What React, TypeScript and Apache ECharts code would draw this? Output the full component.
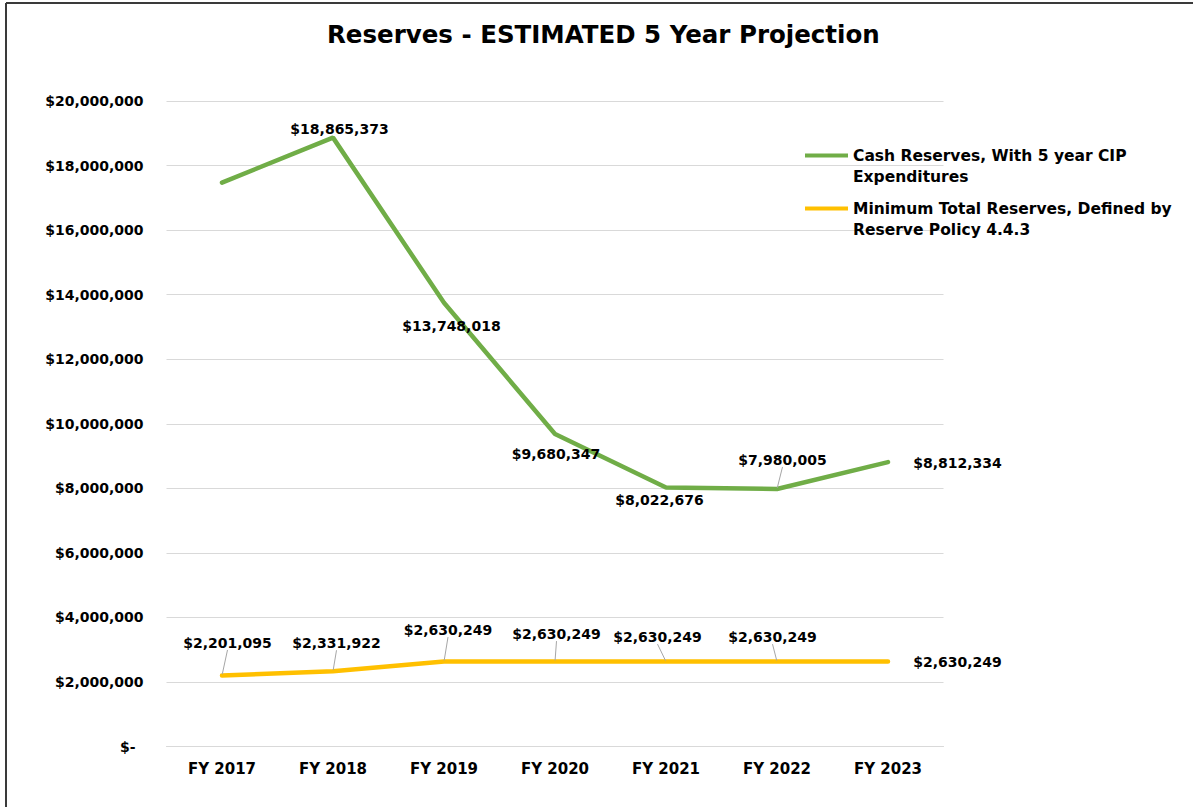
import React, { useEffect, useRef } from "react";
import * as echarts from "echarts";

const categories = ["FY 2017", "FY 2018", "FY 2019", "FY 2020", "FY 2021", "FY 2022", "FY 2023"];
const cashReserves = [17470000, 18865373, 13748018, 9680347, 8022676, 7980005, 8812334];
const minReserves = [2201095, 2331922, 2630249, 2630249, 2630249, 2630249, 2630249];
const yTicks = { min: 0, max: 20000000, interval: 2000000 };
const seriesNames = [
  "Cash Reserves, With 5 year CIP Expenditures",
  "Minimum Total Reserves, Defined by Reserve Policy 4.4.3",
];

// label placement (offset of label centre from its point, px)
const cashLabelOffsets: number[][] = [[0, 0], [6.5, -8.5], [7.5, 23], [1, 20], [-6.5, 12.5], [5.5, -29], [69.5, 1]];
const minLabelOffsets: number[][] = [[5.5, -32.5], [3.5, -28], [4, -31.5], [1.5, -27.5], [-8.5, -24.5], [-4.5, -24.5], [69.5, 0.5]];

const FONT = "DejaVu Sans";
const fmt = (v: number) => "$" + v.toLocaleString("en-US");

export default function App() {
  const ref = useRef<HTMLDivElement>(null);
  useEffect(() => {
    if (!ref.current) return;
    const chart = echarts.init(ref.current, undefined, { renderer: "svg" });
    const labelBase = {
      show: true,
      position: "inside",
      color: "#000",
      fontFamily: FONT,
      fontWeight: "bold",
      fontSize: 14,
      formatter: (p: any) => fmt(p.value),
    };
    const leader = { show: true, lineStyle: { color: "#a6a6a6", width: 1 } };
    chart.setOption({
      animation: false,
      backgroundColor: "#fff",
      title: {
        text: "Reserves - ESTIMATED 5 Year Projection",
        left: 327,
        top: 22,
        padding: 0,
        textStyle: { fontFamily: FONT, fontWeight: "bold", fontSize: 24.5, color: "#000" },
      },
      legend: {
        orient: "vertical",
        left: 805,
        top: 145,
        padding: 0,
        itemGap: 11,
        itemWidth: 43,
        itemHeight: 42,
        icon: "path://M0,0L0.01,0L0.01,0.01L0,0.01Z M0,8.5L43,8.5L43,12.5L0,12.5Z M0,41.99L0.01,41.99L0.01,42L0,42Z",
        itemStyle: { borderWidth: 0 },
        data: seriesNames,
        formatter: (name: string) =>
          name.replace(" Expenditures", "\nExpenditures").replace(" Reserve Policy", "\nReserve Policy"),
        textStyle: { fontFamily: FONT, fontWeight: "bold", fontSize: 15.5, lineHeight: 21, color: "#000" },
      },
      grid: { left: 166.5, right: 249.5, top: 101, bottom: 60.5 },
      xAxis: {
        type: "category",
        data: categories,
        boundaryGap: true,
        axisLine: { show: true, lineStyle: { color: "#d9d9d9", width: 1 } },
        axisTick: { show: false },
        axisLabel: { margin: 15, color: "#000", fontFamily: FONT, fontWeight: "bold", fontSize: 15 },
      },
      yAxis: {
        type: "value",
        min: yTicks.min,
        max: yTicks.max,
        interval: yTicks.interval,
        axisLine: { show: false },
        axisTick: { show: false },
        splitLine: { lineStyle: { color: "#d9d9d9", width: 1 } },
        axisLabel: {
          margin: 23,
          color: "#000",
          fontFamily: FONT,
          fontWeight: "bold",
          fontSize: 14,
          formatter: (v: number) => (v === 0 ? "{z|$-}" : fmt(v)),
          rich: {
            z: { padding: [0, 8, 0, 0], color: "#000", fontFamily: FONT, fontWeight: "bold", fontSize: 14 },
          },
        },
      },
      series: [
        {
          name: seriesNames[0],
          type: "line",
          data: cashReserves.map((v, i) =>
            i === 0
              ? { value: v, label: { show: false } }
              : i === 5
              ? { value: v, labelLine: leader }
              : v
          ),
          symbol: "circle",
          symbolSize: 2,
          showSymbol: true,
          color: "#70ad47",
          lineStyle: { width: 4.5, color: "#70ad47", cap: "round" },
          label: labelBase,
          labelLine: { show: false },
          labelLayout: (p: any) => ({ dx: cashLabelOffsets[p.dataIndex][0], dy: cashLabelOffsets[p.dataIndex][1] }),
        },
        {
          name: seriesNames[1],
          type: "line",
          data: minReserves.map((v, i) => (i === 6 ? { value: v, labelLine: { show: false } } : v)),
          symbol: "circle",
          symbolSize: 2,
          showSymbol: true,
          color: "#ffc000",
          lineStyle: { width: 4.5, color: "#ffc000", cap: "round" },
          label: labelBase,
          labelLine: leader,
          labelLayout: (p: any) => ({ dx: minLabelOffsets[p.dataIndex][0], dy: minLabelOffsets[p.dataIndex][1] }),
        },
      ],
      graphic: [
        { type: "line", shape: { x1: 6, y1: 3, x2: 1193, y2: 3 }, style: { stroke: "#3a3a3a", lineWidth: 2 } },
        { type: "line", shape: { x1: 6, y1: 3, x2: 6, y2: 807 }, style: { stroke: "#3a3a3a", lineWidth: 2 } },
      ],
    });
    return () => chart.dispose();
  }, []);
  return (
    <div style={{ position: "fixed", left: 0, top: 0, width: 1193, height: 807, background: "#fff" }}>
      <div ref={ref} style={{ width: 1193, height: 807 }} />
    </div>
  );
}
